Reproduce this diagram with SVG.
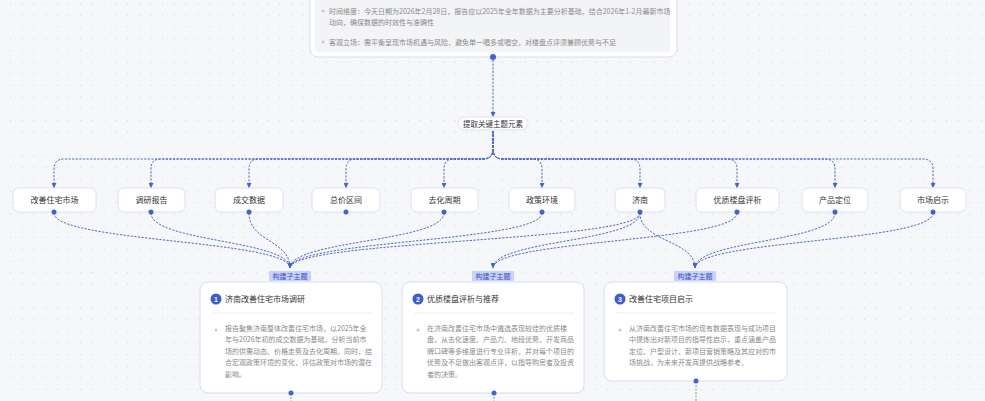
<svg xmlns="http://www.w3.org/2000/svg" width="985" height="401" viewBox="0 0 985 401">
<defs>
<pattern id="dots" x="10" y="3" width="11.7" height="11.7" patternUnits="userSpaceOnUse">
<circle cx="0.6" cy="0.6" r="0.6" fill="#cfd1d6"/>
</pattern>
<marker id="arr" viewBox="0 0 6 6" refX="6" refY="3" markerWidth="5" markerHeight="5" markerUnits="userSpaceOnUse" orient="auto">
<path d="M0,0 L6,3 L0,6 z" fill="#3f62e0"/>
</marker>
<style>
.edge{fill:none;stroke:#4766e0;stroke-width:1;stroke-dasharray:2.2 1.4}
.green{fill:none;stroke:#5dbb63;stroke-width:1;stroke-dasharray:2 1.5}
.node rect{fill:#ffffff;stroke:#dde0f4;stroke-width:1}
.nt{font-family:"Noto Sans CJK SC","Noto Sans",sans-serif;font-size:8px;fill:#333333;text-anchor:middle}
.dot{fill:#3d62e0}
.card{fill:#ffffff;stroke:#d8dcf6;stroke-width:1}
.title{font-family:"Noto Sans CJK SC","Noto Sans",sans-serif;font-size:8px;fill:#333333}
.body{font-family:"Noto Sans CJK SC","Noto Sans",sans-serif;font-size:7px;fill:#8a8a8a}
.bul{fill:#c8c8c8}
.tag rect{fill:#c8d2f8}
.tag text{font-family:"Noto Sans CJK SC","Noto Sans",sans-serif;font-size:7px;fill:#3651c8;text-anchor:middle}
.num{fill:#3b5bdb}
.numt{font-family:"Liberation Sans",sans-serif;font-size:7px;font-weight:bold;fill:#ffffff;text-anchor:middle}
.sep{stroke:#eeeeee;stroke-width:1}
</style>
</defs>
<rect width="985" height="401" fill="#f6f7f9"/>
<rect width="985" height="401" fill="url(#dots)"/>

<g id="top-card">
<rect class="card" x="310" y="-20" width="367" height="77" rx="8"/>
<rect x="315" y="-20" width="355" height="72" rx="4" fill="#f3f4f6"/>
<circle class="bul" cx="323" cy="11" r="1.5"/>
<text class="body" x="329" y="13.5">时间维度：今天日期为2026年2月28日，报告应以2025年全年数据为主要分析基础，结合2026年1-2月最新市场</text>
<text class="body" x="329" y="24.5">动向，确保数据的时效性与准确性</text>
<circle class="bul" cx="323" cy="42" r="1.5"/>
<text class="body" x="329" y="44.5">客观立场：需平衡呈现市场机遇与风险，避免单一唱多或唱空，对楼盘点评须兼顾优势与不足</text>
<circle class="dot" cx="493" cy="57" r="3"/>
</g>

<g id="connectors">
<path class="edge" d="M493,60 V117" marker-end="url(#arr)"/>
<path class="edge" d="M493,131 V149 Q493,159 483,159 H64 Q54,159 54,169 V188" marker-end="url(#arr)"/>
<path class="edge" d="M493,131 V149 Q493,159 483,159 H161 Q151,159 151,169 V188" marker-end="url(#arr)"/>
<path class="edge" d="M493,131 V149 Q493,159 483,159 H259 Q249,159 249,169 V188" marker-end="url(#arr)"/>
<path class="edge" d="M493,131 V149 Q493,159 483,159 H356 Q346,159 346,169 V188" marker-end="url(#arr)"/>
<path class="edge" d="M493,131 V149 Q493,159 483,159 H454 Q444,159 444,169 V188" marker-end="url(#arr)"/>
<path class="edge" d="M493,131 V149 Q493,159 503,159 H532 Q542,159 542,169 V188" marker-end="url(#arr)"/>
<path class="edge" d="M493,131 V149 Q493,159 503,159 H630 Q640,159 640,169 V188" marker-end="url(#arr)"/>
<path class="edge" d="M493,131 V149 Q493,159 503,159 H727 Q737,159 737,169 V188" marker-end="url(#arr)"/>
<path class="edge" d="M493,131 V149 Q493,159 503,159 H825 Q835,159 835,169 V188" marker-end="url(#arr)"/>
<path class="edge" d="M493,131 V149 Q493,159 503,159 H923 Q933,159 933,169 V188" marker-end="url(#arr)"/>

<path class="edge" d="M54,213 C54,242 290,240 290,268" marker-end="url(#arr)"/>
<path class="edge" d="M151,213 C151,242 290,240 290,268" marker-end="url(#arr)"/>
<path class="edge" d="M249,213 C249,242 290,240 290,268" marker-end="url(#arr)"/>
<path class="edge" d="M444,213 C444,242 290,240 290,268" marker-end="url(#arr)"/>
<path class="edge" d="M542,213 C542,242 290,240 290,268" marker-end="url(#arr)"/>
<path class="edge" d="M640,213 C640,242 290,240 290,268" marker-end="url(#arr)"/>
<path class="edge" d="M640,213 C640,242 493,240 493,268" marker-end="url(#arr)"/>
<path class="edge" d="M737,213 C737,242 493,240 493,268" marker-end="url(#arr)"/>
<path class="edge" d="M640,213 C640,242 695,240 695,268" marker-end="url(#arr)"/>
<path class="edge" d="M835,213 C835,242 695,240 695,268" marker-end="url(#arr)"/>
<path class="edge" d="M933,213 C933,242 695,240 695,268" marker-end="url(#arr)"/>

<path class="green" d="M291,397 V401"/>
<path class="green" d="M494,397 V401"/>
<path class="green" d="M696,385 V401"/>
</g>

<g id="extract" class="node">
<rect x="458" y="117" width="70" height="13" rx="6.5"/>
<text class="nt" x="493" y="126.5" style="font-size:7.5px">提取关键主题元素</text>
</g>

<g id="n1" class="node"><rect x="13" y="188" width="83" height="24" rx="6"/><text class="nt" x="54.5" y="203">改善住宅市场</text><circle class="dot" cx="54" cy="212" r="2.5"/></g>
<g id="n2" class="node"><rect x="118" y="188" width="67" height="24" rx="6"/><text class="nt" x="151.5" y="203">调研报告</text><circle class="dot" cx="151" cy="212" r="2.5"/></g>
<g id="n3" class="node"><rect x="215" y="188" width="68" height="24" rx="6"/><text class="nt" x="249" y="203">成交数据</text><circle class="dot" cx="249" cy="212" r="2.5"/></g>
<g id="n4" class="node"><rect x="312" y="188" width="68" height="24" rx="6"/><text class="nt" x="346" y="203">总价区间</text><circle class="dot" cx="346" cy="212" r="2.5"/></g>
<g id="n5" class="node"><rect x="411" y="188" width="67" height="24" rx="6"/><text class="nt" x="444.5" y="203">去化周期</text><circle class="dot" cx="444" cy="212" r="2.5"/></g>
<g id="n6" class="node"><rect x="509" y="188" width="66" height="24" rx="6"/><text class="nt" x="542" y="203">政策环境</text><circle class="dot" cx="542" cy="212" r="2.5"/></g>
<g id="n7" class="node"><rect x="615" y="188" width="50" height="24" rx="6"/><text class="nt" x="640" y="203">济南</text><circle class="dot" cx="640" cy="212" r="2.5"/></g>
<g id="n8" class="node"><rect x="696" y="188" width="83" height="24" rx="6"/><text class="nt" x="737.5" y="203">优质楼盘评析</text><circle class="dot" cx="737" cy="212" r="2.5"/></g>
<g id="n9" class="node"><rect x="802" y="188" width="66" height="24" rx="6"/><text class="nt" x="835" y="203">产品定位</text><circle class="dot" cx="835" cy="212" r="2.5"/></g>
<g id="n10" class="node"><rect x="900" y="188" width="66" height="24" rx="6"/><text class="nt" x="933" y="203">市场启示</text><circle class="dot" cx="933" cy="212" r="2.5"/></g>

<g id="sub1">
<g class="tag"><rect x="269" y="271" width="42" height="10" rx="1"/><text x="290" y="278.5">构建子主题</text></g>
<rect class="card" x="200" y="282" width="182" height="111" rx="8"/>
<circle class="num" cx="216" cy="299" r="5.5"/><text class="numt" x="216" y="301.5">1</text>
<text class="title" x="225" y="302">济南改善住宅市场调研</text>
<line class="sep" x1="212" y1="313" x2="372" y2="313"/>
<circle class="bul" cx="216" cy="330" r="1.5"/>
<text class="body" x="225" y="330.5">报告聚焦济南整体改善住宅市场，以2025年全</text>
<text class="body" x="225" y="342">年与2026年初的成交数据为基础，分析当前市</text>
<text class="body" x="225" y="353.5">场的供需动态、价格走势及去化周期。同时，结</text>
<text class="body" x="225" y="365">合宏观政策环境的变化，评估政策对市场的潜在</text>
<text class="body" x="225" y="376.5">影响。</text>
<circle class="dot" cx="291" cy="393" r="2.5"/>
</g>

<g id="sub2">
<g class="tag"><rect x="472" y="271" width="42" height="10" rx="1"/><text x="493" y="278.5">构建子主题</text></g>
<rect class="card" x="402" y="282" width="182" height="111" rx="8"/>
<circle class="num" cx="418" cy="299" r="5.5"/><text class="numt" x="418" y="301.5">2</text>
<text class="title" x="427" y="302">优质楼盘评析与推荐</text>
<line class="sep" x1="414" y1="313" x2="574" y2="313"/>
<circle class="bul" cx="418" cy="330" r="1.5"/>
<text class="body" x="427" y="330.5">在济南改善住宅市场中遴选表现较佳的优质楼</text>
<text class="body" x="427" y="342">盘，从去化速度、产品力、地段优势、开发商品</text>
<text class="body" x="427" y="353.5">牌口碑等多维度进行专业评析，并对每个项目的</text>
<text class="body" x="427" y="365">优势及不足做出客观点评，以指导购房者及投资</text>
<text class="body" x="427" y="376.5">者的决策。</text>
<circle class="dot" cx="494" cy="393" r="2.5"/>
</g>

<g id="sub3">
<g class="tag"><rect x="674" y="271" width="42" height="10" rx="1"/><text x="695" y="278.5">构建子主题</text></g>
<rect class="card" x="604" y="282" width="183" height="99" rx="8"/>
<circle class="num" cx="620" cy="299" r="5.5"/><text class="numt" x="620" y="301.5">3</text>
<text class="title" x="629" y="302">改善住宅项目启示</text>
<line class="sep" x1="616" y1="313" x2="776" y2="313"/>
<circle class="bul" cx="620" cy="330" r="1.5"/>
<text class="body" x="629" y="330.5">从济南改善住宅市场的现有数据表现与成功项目</text>
<text class="body" x="629" y="342">中提炼出对新项目的指导性启示，重点涵盖产品</text>
<text class="body" x="629" y="353.5">定位、户型设计、新项目营销策略及其应对的市</text>
<text class="body" x="629" y="365">场挑战，为未来开发商提供战略参考。</text>
<circle class="dot" cx="696" cy="381" r="2.5"/>
</g>
</svg>
